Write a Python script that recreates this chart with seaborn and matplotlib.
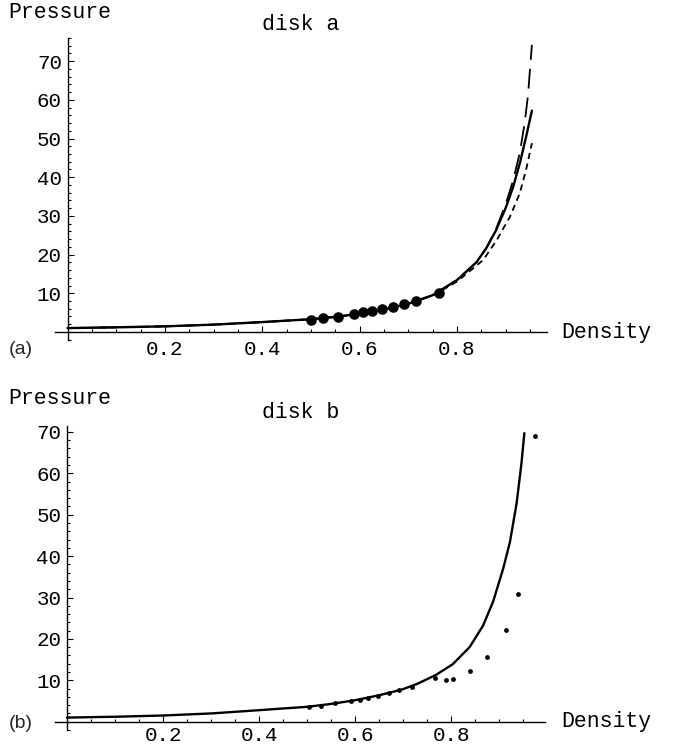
import numpy as np
import pandas as pd
import matplotlib
matplotlib.use('Agg')
import matplotlib.pyplot as plt
from matplotlib.ticker import FixedLocator, MultipleLocator
import seaborn as sns

############### data
# disk a: simulation points
a_pts_density = [0.50, 0.525, 0.556, 0.588, 0.607, 0.626, 0.647, 0.668, 0.691, 0.715, 0.764]
a_pts_pressure = [3.1, 3.5, 3.95, 4.65, 5.1, 5.45, 5.95, 6.55, 7.25, 8.1, 10.0]

# disk a: solid curve
a_solid_density = [0.0, 0.1, 0.2, 0.3, 0.4, 0.5, 0.55, 0.6, 0.65, 0.7, 0.75, 0.8, 0.84, 0.86,
                   0.88, 0.90, 0.915, 0.93, 0.942, 0.954]
a_solid_pressure = [1.0, 1.2, 1.45, 1.9, 2.55, 3.3, 3.9, 4.7, 5.8, 7.3, 9.5, 13.4, 18.0, 21.6,
                    26.2, 32.0, 37.3, 44.0, 50.4, 57.2]

# disk a: long dashed curve
a_long_density = [0.0, 0.1, 0.2, 0.3, 0.4, 0.5, 0.55, 0.6, 0.65, 0.7, 0.75, 0.8, 0.84, 0.86,
                  0.88, 0.90, 0.915, 0.929, 0.939, 0.946, 0.951, 0.954]
a_long_pressure = [1.0, 1.2, 1.45, 1.9, 2.55, 3.3, 3.9, 4.7, 5.8, 7.3, 9.5, 13.4, 18.0, 21.6,
                   26.5, 33.0, 39.0, 46.2, 53.9, 61.2, 69.4, 74.2]

# disk a: short dashed curve
a_short_density = [0.0, 0.1, 0.2, 0.3, 0.4, 0.5, 0.55, 0.6, 0.65, 0.7, 0.75, 0.8, 0.854,
                   0.882, 0.909, 0.929, 0.942, 0.954]
a_short_pressure = [1.0, 1.2, 1.45, 1.9, 2.55, 3.3, 3.9, 4.7, 5.8, 7.3, 9.4, 13.0, 18.6,
                    23.8, 29.8, 35.8, 41.9, 48.8]

# disk b: simulation points
b_pts_density = [0.504, 0.529, 0.557, 0.591, 0.609, 0.627, 0.648, 0.670, 0.692, 0.719, 0.765,
                 0.789, 0.804, 0.838, 0.874, 0.913, 0.939, 0.975]
b_pts_pressure = [3.5, 3.85, 4.45, 5.0, 5.3, 5.65, 6.2, 6.95, 7.65, 8.45, 10.5,
                  10.1, 10.3, 12.2, 15.6, 22.2, 30.8, 69.1]

# disk b: solid curve
b_solid_density = [0.0, 0.1, 0.2, 0.3, 0.384, 0.45, 0.5, 0.55, 0.6, 0.65, 0.698, 0.73, 0.768,
                   0.803, 0.838, 0.866, 0.887, 0.908, 0.922, 0.936, 0.946, 0.952]
b_solid_pressure = [1.0, 1.2, 1.5, 2.0, 2.66, 3.2, 3.6, 4.3, 5.2, 6.4, 7.8, 9.2, 11.3,
                    13.9, 18.0, 23.2, 29.0, 37.0, 43.4, 52.8, 62.4, 69.7]

x_major = [0.2, 0.4, 0.6, 0.8]
y_major = [10, 20, 30, 40, 50, 60, 70]

############### style
sns.set_theme(style="white")
plt.rcParams['font.family'] = ['Liberation Mono', 'DejaVu Sans']

W, H = 678, 745
fig = plt.figure(figsize=(W / 100, H / 100), dpi=100)
ax_a = fig.add_axes([55 / W, 1 - 339.7 / H, 492 / W, 301.8 / H])
ax_b = fig.add_axes([55 / W, 1 - 730 / H, 490 / W, 303.5 / H])


def mathematica_axes(ax, xlim, ylim, xpad):
    ax.set_xlim(*xlim)
    ax.set_ylim(*ylim)
    for side in ['top', 'right']:
        ax.spines[side].set_visible(False)
    ax.spines['left'].set_position(('data', 0))
    ax.spines['bottom'].set_position(('data', 0))
    for side in ['left', 'bottom']:
        ax.spines[side].set_linewidth(1.0)
        ax.spines[side].set_color('black')
    ax.xaxis.set_major_locator(FixedLocator(x_major))
    ax.xaxis.set_minor_locator(FixedLocator(np.arange(0.05, 0.96, 0.05)))
    ax.yaxis.set_major_locator(FixedLocator(y_major))
    ax.yaxis.set_minor_locator(MultipleLocator(2))
    ax.set_xticklabels(['0.2', '0.4', '0.6', '0.8'])
    ax.set_yticklabels([str(v) for v in y_major])
    ax.tick_params(which='both', direction='in', color='black', width=0.8,
                   left=True, bottom=True, labelsize=15, labelcolor='black')
    ax.tick_params(which='major', length=4)
    ax.tick_params(which='minor', length=2)
    ax.tick_params(axis='y', which='major', pad=4)
    ax.tick_params(axis='x', which='major', pad=xpad)
    ax.set_xlabel('')
    ax.set_ylabel('')
    ax.grid(False)
    ax.patch.set_alpha(0)


# disk a
sns.lineplot(x=a_solid_density, y=a_solid_pressure, ax=ax_a, color='black', lw=1.7,
             errorbar=None, sort=False)
sns.lineplot(x=a_long_density, y=a_long_pressure, ax=ax_a, color='black', lw=1.3,
             errorbar=None, sort=False, linestyle=(0, (11, 5)))
sns.lineplot(x=a_short_density, y=a_short_pressure, ax=ax_a, color='black', lw=1.3,
             errorbar=None, sort=False, linestyle=(0, (3.5, 2.5)))
sns.scatterplot(x=a_pts_density, y=a_pts_pressure, ax=ax_a, color='black', s=58,
                edgecolor='black', linewidth=0, zorder=5)
mathematica_axes(ax_a, (-0.0257, 0.985), (-2, 76), 5.5)

# disk b
sns.lineplot(x=b_solid_density, y=b_solid_pressure, ax=ax_b, color='black', lw=1.7,
             errorbar=None, sort=False)
sns.scatterplot(x=b_pts_density, y=b_pts_pressure, ax=ax_b, color='black', s=12,
                edgecolor='black', linewidth=0, zorder=5)
mathematica_axes(ax_b, (-0.025, 0.995), (-2, 71.3), 3)

# labels
txt = dict(fontsize=15.5, color='black')
fig.text(8 / W, 1 - 13 / H, 'Pressure', ha='left', va='center', **txt)
fig.text(301 / W, 1 - 25 / H, 'disk a', ha='center', va='center', **txt)
fig.text(561 / W, 1 - 333 / H, 'Density', ha='left', va='center', **txt)
fig.text(9 / W, 1 - 350 / H, '(a)', ha='left', va='center', fontsize=14,
         family=['Liberation Sans', 'DejaVu Sans'])

fig.text(8 / W, 1 - 398 / H, 'Pressure', ha='left', va='center', **txt)
fig.text(301 / W, 1 - 412 / H, 'disk b', ha='center', va='center', **txt)
fig.text(561 / W, 1 - 722 / H, 'Density', ha='left', va='center', **txt)
fig.text(9 / W, 1 - 724 / H, '(b)', ha='left', va='center', fontsize=14,
         family=['Liberation Sans', 'DejaVu Sans'])

fig.savefig('out.png', dpi=100, facecolor='white')
